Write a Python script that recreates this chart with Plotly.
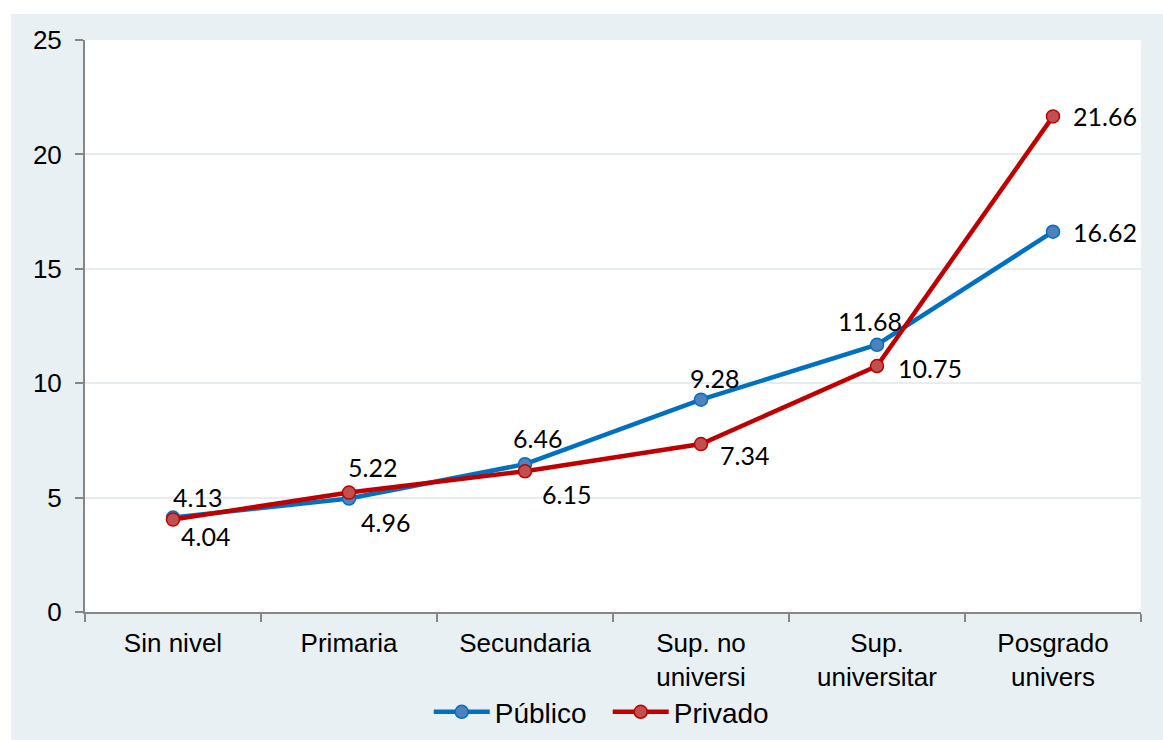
import plotly.graph_objects as go

categories = ["Sin nivel", "Primaria", "Secundaria", "Sup. no<br>universi", "Sup.<br>universitar", "Posgrado<br>univers"]
publico = [4.13, 4.96, 6.46, 9.28, 11.68, 16.62]
privado = [4.04, 5.22, 6.15, 7.34, 10.75, 21.66]
y_ticks = [0, 5, 10, 15, 20, 25]
grid_vals = [5, 10, 15, 20]

# label offsets in pixels (dx, dy) relative to each point (dy positive = up)
pub_off = [(24, 21), (36, -23), (12, 26), (13, 22), (-7, 24), (52, 0)]
priv_off = [(32, -16), (23, 26), (41, -23), (43, -11), (53, -2), (52, 0)]

BLUE = "#0070C0"
BLUE_M = "#4F81BD"
RED = "#C00000"
RED_M = "#C0504D"
PANEL = "#E9F0F3"

fig = go.Figure()
# empty helper trace so the grid-only overlay axis is drawn
fig.add_trace(go.Scatter(x=[], y=[], yaxis="y2", showlegend=False, hoverinfo="skip"))
fig.add_trace(go.Scatter(
    x=categories, y=publico, name="Público", mode="lines+markers",
    line=dict(color=BLUE, width=4.5),
    marker=dict(size=13, color=BLUE_M, line=dict(color=BLUE, width=1.5)),
))
fig.add_trace(go.Scatter(
    x=categories, y=privado, name="Privado", mode="lines+markers",
    line=dict(color=RED, width=4.5),
    marker=dict(size=13, color=RED_M, line=dict(color=RED, width=1.5)),
))

label_font = dict(family="Lato, Open Sans, sans-serif", size=25, color="#000000")
for c, v, (dx, dy) in zip(categories, publico, pub_off):
    fig.add_annotation(x=c, y=v, text=f"{v:.2f}", showarrow=False,
                       xshift=dx, yshift=dy, font=label_font)
for c, v, (dx, dy) in zip(categories, privado, priv_off):
    fig.add_annotation(x=c, y=v, text=f"{v:.2f}", showarrow=False,
                       xshift=dx, yshift=dy, font=label_font)

# white strips outside the panel (top and left)
fig.add_shape(type="rect", xref="paper", yref="paper",
              x0=-0.2, x1=1.1, y0=1.0455, y1=1.2,
              fillcolor="white", line=dict(width=0), layer="below")
fig.add_shape(type="rect", xref="paper", yref="paper",
              x0=-0.2, x1=-0.0701, y0=-0.3, y1=1.2,
              fillcolor="white", line=dict(width=0), layer="below")

axis_font = dict(family="Liberation Sans, Arial, sans-serif", size=26, color="#000000")
legend_font = dict(family="Liberation Sans, Arial, sans-serif", size=28, color="#000000")

fig.update_layout(
    width=1163, height=740,
    margin=dict(l=85, r=22, t=40, b=128, autoexpand=False),
    paper_bgcolor=PANEL,
    plot_bgcolor="white",
    showlegend=True,
    legend=dict(orientation="h", x=0.495, xanchor="center", y=-0.175, yanchor="middle",
                font=legend_font, bgcolor="rgba(0,0,0,0)", itemwidth=56,
                entrywidth=108, traceorder="normal"),
    xaxis=dict(
        type="category", range=[-0.5, 5.5], automargin=False,
        showline=True, linecolor="#868686", linewidth=2,
        ticks="outside", tickson="boundaries", ticklen=8, tickcolor="#868686", tickwidth=1.5,
        tickfont=axis_font, showgrid=False, zeroline=False, ticklabelstandoff=7,
    ),
    yaxis=dict(
        range=[0, 25], tickvals=y_ticks, automargin=False,
        showline=True, linecolor="#868686", linewidth=2,
        ticks="outside", ticklen=8, tickcolor="#868686", tickwidth=1.5,
        tickfont=axis_font, showgrid=False,
        zeroline=False, ticklabelstandoff=8,
    ),
    yaxis2=dict(
        range=[0, 25], tickvals=grid_vals, overlaying="y", side="left",
        showticklabels=False, ticks="", showline=False, automargin=False,
        showgrid=True, gridcolor="#E6EDF0", gridwidth=1.5, zeroline=False,
    ),
)

fig.write_html("out.html")
